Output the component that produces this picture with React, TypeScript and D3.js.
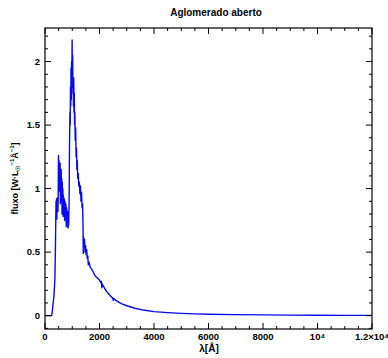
import React from "react";
import * as d3 from "d3";

const W = 388;
const H = 358;

const lambda = [
  0, 100, 200, 245, 270, 300, 330, 350, 365, 380, 395, 405, 415, 425, 435, 445, 455, 465, 475, 485,
  495, 505, 515, 525, 535, 545, 555, 565, 575, 585, 595, 605, 615, 625, 635, 645, 655, 665, 675, 690,
  705, 720, 735, 750, 765, 780, 795, 810, 825, 840, 855, 870, 885, 900, 915, 925, 935, 945, 955, 965,
  975, 985, 995, 1005, 1015, 1025, 1035, 1045, 1055, 1065, 1075, 1085, 1095, 1110, 1125, 1140, 1155,
  1170, 1185, 1200, 1220, 1240, 1260, 1280, 1300, 1320, 1340, 1360, 1380, 1395, 1405, 1415, 1430,
  1450, 1470, 1490, 1510, 1530, 1550, 1570, 1590, 1620, 1660, 1700, 1750, 1800, 1850, 1900, 1950,
  2000, 2040, 2070, 2085, 2100, 2200, 2300, 2400, 2480, 2510, 2530, 2600, 2800, 3000, 3300, 3600,
  4000, 4500, 5000, 5500, 6000, 7000, 8000, 9000, 10000, 11000, 12000,
];

const flux = [
  0, 0, 0, 0, 0.04, 0.1, 0.16, 0.24, 0.3, 0.5, 0.75, 0.9, 0.88, 0.92, 0.76, 0.9, 0.86, 0.93, 0.82, 0.95,
  1.26, 1.1, 1.22, 0.98, 1.18, 1.02, 1.2, 0.88, 1.12, 0.95, 1.15, 0.9, 1.08, 0.8, 1.05, 0.85, 1.0, 0.78, 0.95, 0.85,
  0.92, 0.75, 0.9, 0.82, 0.88, 0.7, 0.85, 0.78, 0.82, 0.69, 0.7, 0.72, 0.9, 1.35, 1.6, 1.5, 1.8, 1.65, 1.95, 1.7,
  2.0, 1.8, 2.17, 1.9, 2.05, 1.75, 1.85, 1.65, 1.87, 1.6, 1.75, 1.5, 1.6, 1.38, 1.48, 1.25, 1.32,
  1.15, 1.22, 1.08, 1.12, 1.02, 1.05, 0.96, 1.02, 0.9, 0.97, 0.85, 0.88, 0.7, 0.49, 0.62, 0.55,
  0.6, 0.5, 0.55, 0.48, 0.52, 0.45, 0.47, 0.4, 0.42, 0.38, 0.37, 0.35, 0.33, 0.31, 0.3, 0.29,
  0.28, 0.26, 0.27, 0.22, 0.25, 0.21, 0.18, 0.155, 0.14, 0.12, 0.135, 0.12, 0.095, 0.078, 0.058, 0.044,
  0.032, 0.024, 0.018, 0.014, 0.011, 0.008, 0.006, 0.004, 0.003, 0.0025, 0.002,
];

const xMajorTicks = [0, 2000, 4000, 6000, 8000, 10000, 12000];
const xTickLabels = ["0", "2000", "4000", "6000", "8000", "10\u2074", "1.2\u00d710\u2074"];
const yMajorTicks = [0, 0.5, 1, 1.5, 2];
const yTickLabels = ["0", "0.5", "1", "1.5", "2"];

const title = "Aglomerado aberto";

const FONT = "'Liberation Sans', Arial, Helvetica, sans-serif";

export default function App() {
  const left = 45, right = 372, top = 28, bottom = 329;
  const x = d3.scaleLinear().domain([0, 12000]).range([left, right]);
  const y = d3.scaleLinear().domain([-0.105, 2.264]).range([bottom, top]);

  const xMinor = d3.range(0, 12001, 500).filter((v) => v % 2000 !== 0);
  const yMinor = d3.range(-1, 23).map((i) => i / 10).filter((v) => Math.abs((v * 2) % 1) > 1e-6 && Math.abs((v * 2) % 1 - 1) > 1e-6);

  const pts = lambda.map((l, i) => [l, flux[i]] as [number, number]);
  const line = d3.line<[number, number]>().x((d) => x(d[0])).y((d) => y(d[1]));

  const maj = 6, min = 3;

  return (
    <div style={{ position: "absolute", left: 0, top: 0 }}>
      <svg width={W} height={H} style={{ display: "block", background: "#fff" }}>
        <rect x={0} y={0} width={W} height={H} fill="#fff" />
        <path d={line(pts) || ""} fill="none" stroke="#0a0af0" strokeWidth={1.4} strokeLinejoin="round" />
        <rect x={left} y={top} width={right - left} height={bottom - top} fill="none" stroke="#000" strokeWidth={1.2} />
        {xMajorTicks.map((v) => (
          <g key={"xm" + v}>
            <line x1={x(v)} x2={x(v)} y1={bottom} y2={bottom - maj} stroke="#000" strokeWidth={1} />
            <line x1={x(v)} x2={x(v)} y1={top} y2={top + maj} stroke="#000" strokeWidth={1} />
          </g>
        ))}
        {xMinor.map((v) => (
          <g key={"xn" + v}>
            <line x1={x(v)} x2={x(v)} y1={bottom} y2={bottom - min} stroke="#000" strokeWidth={1} />
            <line x1={x(v)} x2={x(v)} y1={top} y2={top + min} stroke="#000" strokeWidth={1} />
          </g>
        ))}
        {yMajorTicks.map((v) => (
          <g key={"ym" + v}>
            <line x1={left} x2={left + maj} y1={y(v)} y2={y(v)} stroke="#000" strokeWidth={1} />
            <line x1={right} x2={right - maj} y1={y(v)} y2={y(v)} stroke="#000" strokeWidth={1} />
          </g>
        ))}
        {yMinor.map((v) => (
          <g key={"yn" + v}>
            <line x1={left} x2={left + min} y1={y(v)} y2={y(v)} stroke="#000" strokeWidth={1} />
            <line x1={right} x2={right - min} y1={y(v)} y2={y(v)} stroke="#000" strokeWidth={1} />
          </g>
        ))}
        {xMajorTicks.map((v, i) => (
          <text key={"xl" + v} x={x(v)} y={340} textAnchor="middle" fontFamily={FONT} fontWeight="bold" fontSize={9.5} fill="#000">
            {xTickLabels[i]}
          </text>
        ))}
        {yMajorTicks.map((v, i) => (
          <text key={"yl" + v} x={40} y={y(v)} dy="0.35em" textAnchor="end" fontFamily={FONT} fontWeight="bold" fontSize={9.5} fill="#000">
            {yTickLabels[i]}
          </text>
        ))}
        <text x={216} y={16} textAnchor="middle" fontFamily={FONT} fontWeight="bold" fontSize={10} fill="#000">
          {title}
        </text>
        <text x={209} y={352} textAnchor="middle" fontFamily={FONT} fontWeight="bold" fontSize={10} fill="#000">
          {"\u03bb[\u00c5]"}
        </text>
        <text transform={`translate(18,${(top + bottom) / 2}) rotate(-90)`} textAnchor="middle" fontFamily={FONT} fontWeight="bold" fontSize={9} fill="#000">
          {"fluxo [W\u00b7L"}
          <tspan fontSize={6} dy={2}>{"\u2609"}</tspan>
          <tspan fontSize={6} dy={-6}>{"\u22121"}</tspan>
          <tspan dy={4}>{"\u00c5"}</tspan>
          <tspan fontSize={6} dy={-4}>{"\u22121"}</tspan>
          <tspan dy={4}>{"]"}</tspan>
        </text>
      </svg>
    </div>
  );
}
